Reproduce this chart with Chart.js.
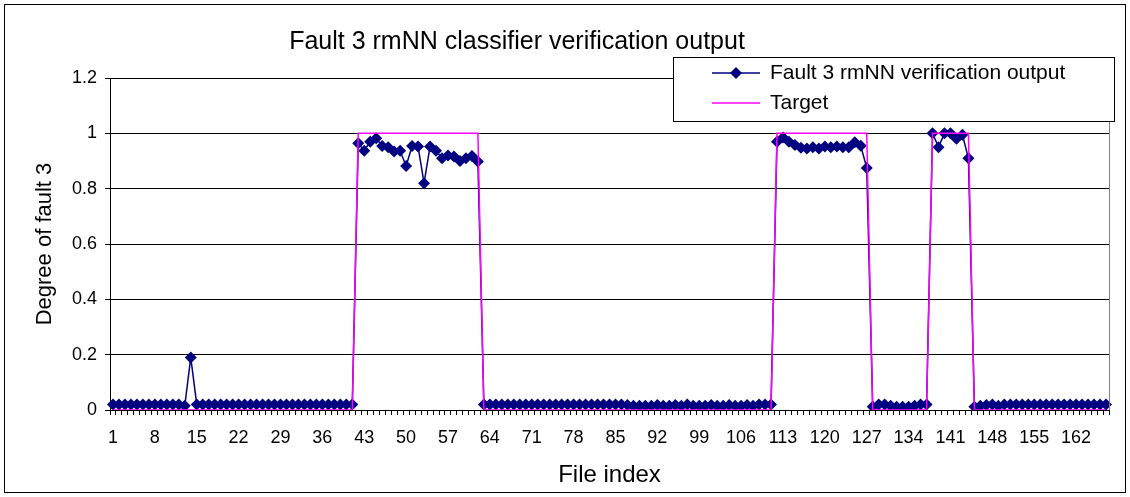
<!DOCTYPE html>
<html>
<head>
<meta charset="utf-8">
<script src="https://cdn.jsdelivr.net/npm/chart.js@4.4.1/dist/chart.umd.min.js"></script>
<style>
    html, body { margin: 0; padding: 0; background: #fff; }
    #wrap { width: 1130px; height: 497px; }
</style>
</head>
<body>
<div id="wrap"><canvas id="faultChart" width="1130" height="497"></canvas></div>
<script>
// File indices 1..167
const fileIndex = Array.from({ length: 167 }, (_, i) => String(i + 1));
const shownTicks = ["1", "8", "15", "22", "29", "36", "43", "50", "57", "64", "71", "78", "85",
    "92", "99", "106", "113", "120", "127", "134", "141", "148", "155", "162"];

// rmNN verification output
const outputLow1 = [0.02, 0.02, 0.02, 0.02, 0.02, 0.02, 0.02, 0.02, 0.02, 0.02,
    0.02, 0.02, 0.015, 0.19, 0.02, 0.02, 0.02, 0.02, 0.02, 0.02,
    0.02, 0.02, 0.02, 0.02, 0.02, 0.02, 0.02, 0.02, 0.02, 0.02,
    0.02, 0.02, 0.02, 0.02, 0.02, 0.02, 0.02, 0.02, 0.02, 0.02, 0.02];
const outputHigh1 = [0.964, 0.937, 0.97, 0.982, 0.954, 0.95, 0.934, 0.937, 0.882, 0.954,
    0.952, 0.82, 0.952, 0.937, 0.91, 0.92, 0.916, 0.9, 0.91, 0.918, 0.898];
const outputLow2 = [0.02, 0.02, 0.02, 0.02, 0.02, 0.02, 0.02, 0.02, 0.02, 0.02,
    0.02, 0.02, 0.02, 0.02, 0.02, 0.02, 0.02, 0.02, 0.02, 0.02,
    0.02, 0.02, 0.02, 0.02, 0.018, 0.015, 0.015, 0.015, 0.015, 0.018,
    0.015, 0.015, 0.018, 0.015, 0.02, 0.015, 0.015, 0.015, 0.018, 0.015,
    0.015, 0.018, 0.015, 0.015, 0.018, 0.015, 0.02, 0.02, 0.02];
const outputHigh2 = [0.97, 0.985, 0.97, 0.958, 0.948, 0.945, 0.95, 0.945, 0.952, 0.95,
    0.952, 0.95, 0.95, 0.968, 0.955, 0.875];
const outputLow3 = [0.012, 0.02, 0.02, 0.015, 0.012, 0.012, 0.012, 0.015, 0.02, 0.02];
const outputHigh3 = [1.0, 0.95, 1.0, 1.0, 0.98, 0.995, 0.91];
const outputLow4 = [0.012, 0.015, 0.018, 0.02, 0.015, 0.02, 0.02, 0.02, 0.02, 0.02,
    0.02, 0.02, 0.02, 0.02, 0.02, 0.02, 0.02, 0.02, 0.02, 0.02, 0.02, 0.02, 0.02];

const verificationOutput = [].concat(outputLow1, outputHigh1, outputLow2, outputHigh2,
    outputLow3, outputHigh3, outputLow4);

// Target: 1 while fault 3 is present
const target = [
    0, 0, 0, 0, 0, 0, 0, 0, 0, 0, 0, 0, 0, 0, 0, 0, 0, 0, 0, 0,
    0, 0, 0, 0, 0, 0, 0, 0, 0, 0, 0, 0, 0, 0, 0, 0, 0, 0, 0, 0, 0,
    1, 1, 1, 1, 1, 1, 1, 1, 1, 1, 1, 1, 1, 1, 1, 1, 1, 1, 1, 1, 1,
    0, 0, 0, 0, 0, 0, 0, 0, 0, 0, 0, 0, 0, 0, 0, 0, 0, 0, 0, 0,
    0, 0, 0, 0, 0, 0, 0, 0, 0, 0, 0, 0, 0, 0, 0, 0, 0, 0, 0, 0,
    0, 0, 0, 0, 0, 0, 0, 0, 0,
    1, 1, 1, 1, 1, 1, 1, 1, 1, 1, 1, 1, 1, 1, 1, 1,
    0, 0, 0, 0, 0, 0, 0, 0, 0, 0,
    1, 1, 1, 1, 1, 1, 1,
    0, 0, 0, 0, 0, 0, 0, 0, 0, 0, 0, 0, 0, 0, 0, 0, 0, 0, 0, 0, 0, 0, 0
];

const FONT = "'Liberation Sans', Arial, sans-serif";
const NAVY = "#000080";
const MAGENTA = "#FF00FF";

// Title, legend box, axis titles and the outer frame
const decorations = {
    id: "decorations",
    afterDraw(chart) {
        const c = chart.ctx;
        const area = chart.chartArea;
        c.save();

        // right edge of plot area
        c.strokeStyle = "#808080";
        c.lineWidth = 1;
        c.beginPath();
        c.moveTo(Math.round(area.right) + 0.5, area.top);
        c.lineTo(Math.round(area.right) + 0.5, area.bottom);
        c.stroke();

        c.fillStyle = "#000";
        c.textAlign = "center";
        c.textBaseline = "middle";
        c.font = "25px " + FONT;
        c.fillText("Fault 3 rmNN classifier verification output", 517, 42);

        c.font = "24px " + FONT;
        c.fillText("File index", (area.left + area.right) / 2, 475);

        c.save();
        c.translate(45, (area.top + area.bottom) / 2);
        c.rotate(-Math.PI / 2);
        c.font = "22px " + FONT;
        c.fillText("Degree of fault 3", 0, 0);
        c.restore();

        // legend
        c.fillStyle = "#fff";
        c.fillRect(673.5, 57.5, 441, 64);
        c.strokeStyle = "#000";
        c.lineWidth = 1;
        c.strokeRect(673.5, 57.5, 441, 64);

        c.strokeStyle = NAVY;
        c.lineWidth = 1.5;
        c.beginPath();
        c.moveTo(712, 73);
        c.lineTo(760, 73);
        c.stroke();
        c.fillStyle = NAVY;
        c.beginPath();
        c.moveTo(736, 67);
        c.lineTo(742, 73);
        c.lineTo(736, 79);
        c.lineTo(730, 73);
        c.closePath();
        c.fill();

        c.strokeStyle = MAGENTA;
        c.lineWidth = 1.5;
        c.beginPath();
        c.moveTo(712, 103);
        c.lineTo(760, 103);
        c.stroke();

        c.fillStyle = "#000";
        c.textAlign = "left";
        c.font = "21px " + FONT;
        c.fillText("Fault 3 rmNN verification output", 770, 73);
        c.fillText("Target", 770, 103);

        // outer frame
        c.strokeStyle = "#000";
        c.lineWidth = 1;
        c.strokeRect(4.5, 4.5, 1121, 488);
        c.restore();
    }
};

let ctx = document.getElementById("faultChart").getContext("2d");
let faultChart = new Chart(ctx, {
    type: "line",
    data: {
        labels: fileIndex,
        datasets: [{
            label: "Target",
            data: target,
            borderColor: MAGENTA,
            borderWidth: 1.5,
            pointRadius: 0,
            tension: 0,
            order: 0
        }, {
            label: "Fault 3 rmNN verification output",
            data: verificationOutput,
            borderColor: NAVY,
            backgroundColor: NAVY,
            borderWidth: 1.5,
            pointStyle: "rectRot",
            pointRadius: 6,
            pointBackgroundColor: NAVY,
            pointBorderColor: NAVY,
            pointBorderWidth: 0,
            tension: 0,
            order: 1
        }]
    },
    options: {
        responsive: false,
        animation: false,
        devicePixelRatio: 1,
        layout: {
            autoPadding: false,
            padding: { top: 78, right: 21, left: 0, bottom: 0 }
        },
        plugins: {
            legend: { display: false },
            title: { display: false },
            tooltip: { enabled: false }
        },
        scales: {
            x: {
                type: "category",
                offset: true,
                afterFit: scale => { scale.height = 87; },
                grid: {
                    offset: true,
                    drawOnChartArea: false,
                    drawTicks: true,
                    tickLength: 5,
                    color: "#000"
                },
                border: { color: "#000", width: 1 },
                ticks: {
                    autoSkip: false,
                    maxRotation: 0,
                    minRotation: 0,
                    padding: 12,
                    color: "#000",
                    font: { family: FONT, size: 18 },
                    callback: function (value) {
                        const lbl = this.getLabelForValue(value);
                        return shownTicks.includes(lbl) ? lbl : "";
                    }
                }
            },
            y: {
                min: 0,
                max: 1.2,
                afterFit: scale => { scale.width = 110; },
                grid: {
                    color: "#000",
                    lineWidth: 1,
                    tickLength: 5
                },
                border: { color: "#000", width: 1 },
                ticks: {
                    stepSize: 0.2,
                    padding: 8,
                    color: "#000",
                    font: { family: FONT, size: 18 },
                    callback: v => String(Math.round(v * 10) / 10)
                }
            }
        }
    },
    plugins: [decorations]
});
</script>
</body>
</html>
